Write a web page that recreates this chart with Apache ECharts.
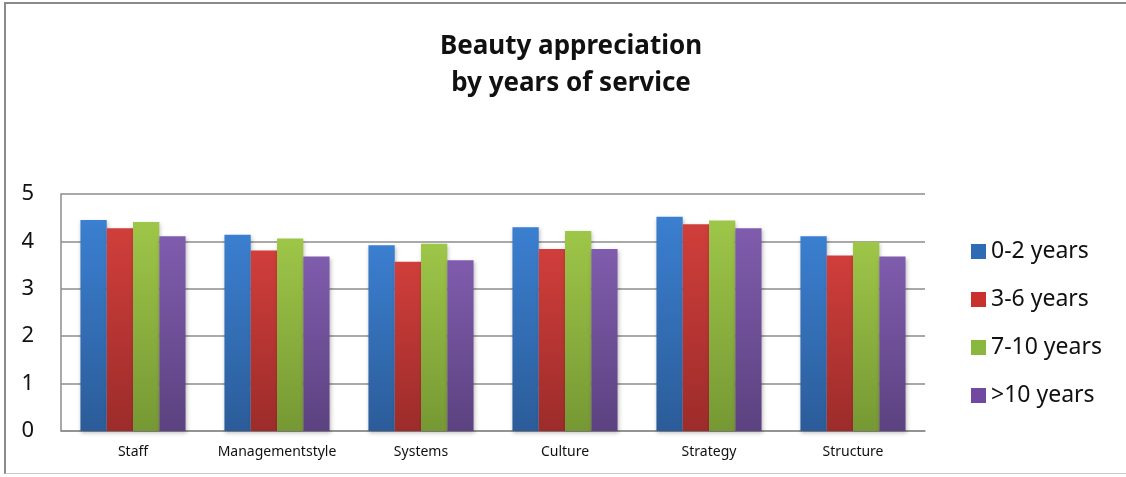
<!DOCTYPE html>
<html>
<head>
<meta charset="utf-8">
<script src="https://cdn.jsdelivr.net/npm/echarts@6/dist/echarts.min.js"></script>
<style>
  html, body { margin: 0; padding: 0; background: #fff; }
  #frame { position: absolute; left: 4px; top: 2px; width: 1130px; height: 472px;
           border-top: 2px solid #8a8a8a; border-left: 2px solid #8a8a8a; border-bottom: 1px solid #c8c8c8; box-sizing: border-box; }
  #chart { position: absolute; left: 0; top: 0; width: 1126px; height: 477px; }
</style>
</head>
<body>
<div id="frame"></div>
<div id="chart"></div>
<script>
const categories = ['Staff', 'Managementstyle', 'Systems', 'Culture', 'Strategy', 'Structure'];
const seriesNames = ['0-2 years', '3-6 years', '7-10 years', '>10 years'];
const years0to2  = [4.45, 4.14, 3.92, 4.30, 4.52, 4.11];
const years3to6  = [4.28, 3.81, 3.57, 3.84, 4.36, 3.70];
const years7to10 = [4.41, 4.06, 3.95, 4.22, 4.44, 3.99];
const yearsOver10 = [4.11, 3.68, 3.60, 3.84, 4.28, 3.68];
const yTicks = [0, 1, 2, 3, 4, 5];

const values = [years0to2, years3to6, years7to10, yearsOver10];
const colors = [
  ['#3b7fd0', '#2b5c99'],
  ['#d03e3b', '#9c2c2a'],
  ['#9ec648', '#769834'],
  ['#7f5cad', '#5c4280']
];
const legendColors = ['#2f6bb5', '#c8312e', '#8ab73d', '#7149a0'];

const chart = echarts.init(document.getElementById('chart'), null, { renderer: 'canvas' });
const font = '"Noto Sans", "Open Sans", sans-serif';

chart.setOption({
  animation: false,
  backgroundColor: 'transparent',
  title: {
    text: 'Beauty appreciation\nby years of service',
    left: 566, top: 23, textAlign: 'center',
    textStyle: { fontFamily: font, fontSize: 26, fontWeight: 'bold', color: '#111', lineHeight: 37 }
  },
  legend: {
    orient: 'vertical', left: 966, top: 235,
    itemWidth: 15, itemHeight: 15, itemGap: 25,
    icon: 'rect',
    textStyle: { fontFamily: font, fontSize: 23, color: '#111', padding: [0, 0, 0, 0] },
    data: seriesNames.map((n, i) => ({ name: n, itemStyle: { color: legendColors[i] } }))
  },
  grid: { left: 61, right: 201, top: 194, bottom: 46 },
  xAxis: {
    type: 'category', data: categories,
    axisLine: { show: true, lineStyle: { color: '#8c8c8c', width: 1.5 } },
    axisTick: { show: false },
    axisLabel: { interval: 0, fontFamily: font, fontSize: 14, color: '#111', margin: 14 }
  },
  yAxis: {
    type: 'value', min: yTicks[0], max: yTicks[yTicks.length - 1], interval: 1,
    axisLine: { show: true, lineStyle: { color: '#8c8c8c', width: 1.5 } },
    axisTick: { show: false },
    splitLine: { lineStyle: { color: '#8c8c8c', width: 1.5 } },
    axisLabel: { fontFamily: font, fontSize: 22, color: '#111', margin: 27 }
  },
  series: seriesNames.map((n, i) => ({
    name: n, type: 'bar', data: values[i],
    barGap: '0%', barCategoryGap: '27%',
    itemStyle: {
      color: new echarts.graphic.LinearGradient(0, 0, 0, 1, [
        { offset: 0, color: colors[i][0] }, { offset: 1, color: colors[i][1] }
      ]),
      shadowColor: 'rgba(0,0,0,0.25)', shadowBlur: 4, shadowOffsetX: 1, shadowOffsetY: 2
    }
  }))
});
</script>
</body>
</html>
